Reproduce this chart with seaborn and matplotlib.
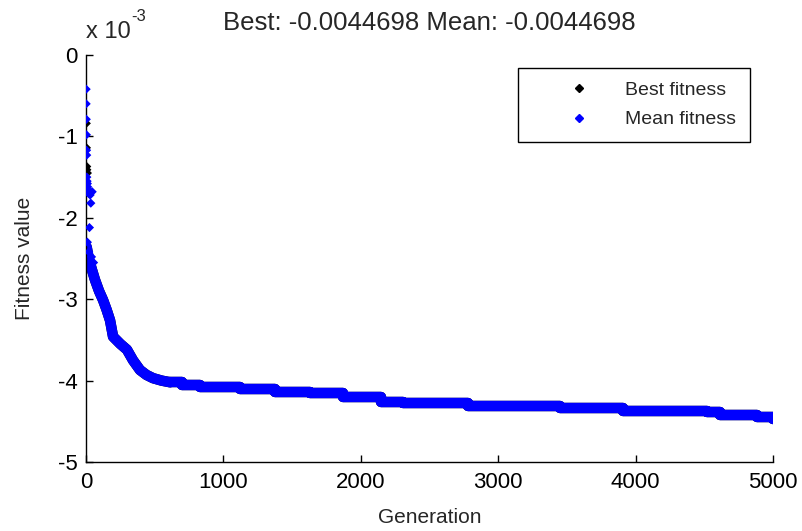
import matplotlib
matplotlib.use('Agg')
import matplotlib.pyplot as plt
import seaborn as sns
import pandas as pd
from matplotlib.lines import Line2D

# values, y in units of 1e-3
early_best_gen = [2, 3, 5, 6, 10]
early_best_val = [-0.84, -1.14, -1.37, -1.41, -1.45]

early_mean_gen = [1, 1, 2, 3, 4, 5, 6, 8, 10, 12, 15, 20, 30, 45, 35, 25, 10, 20, 40, 55]
early_mean_val = [-0.42, -0.60, -0.79, -0.98, -1.17, -1.23, -1.50, -1.55, -1.58, -1.62,
                  -1.66, -1.70, -1.72, -1.68, -1.82, -2.12, -2.30, -2.42, -2.48, -2.55]

band_gen = [5, 20, 40, 65, 95, 124, 150, 175, 197, 250, 298, 342, 393, 440, 488, 550, 611,
            700, 829, 1121, 1376, 1630, 1870, 2150, 2310, 2780, 3450, 3909, 4520, 4614, 4884, 5000]
band_val = [-2.36, -2.50, -2.62, -2.76, -2.90, -3.01, -3.13, -3.26, -3.46, -3.55, -3.62, -3.75,
            -3.87, -3.93, -3.97, -4.00, -4.02, -4.05, -4.08, -4.10, -4.14, -4.15, -4.20, -4.26,
            -4.28, -4.31, -4.34, -4.37, -4.39, -4.42, -4.45, -4.47]

x_ticks = [0, 1000, 2000, 3000, 4000, 5000]
y_ticks = [0, -1, -2, -3, -4, -5]

sns.set_style('white')
plt.rcParams['font.family'] = ['Liberation Sans', 'DejaVu Sans']

band = pd.DataFrame({'gen': band_gen, 'val': band_val})
steep = band[band['gen'] <= 611]   # fast early descent, drawn as a slope
flat = band[band['gen'] >= 611]    # later plateaus, drawn as steps

fig = plt.figure(figsize=(8.02, 5.31), dpi=100)
ax = fig.add_axes([86 / 802, 1 - 462 / 531, (773 - 86) / 802, (462 - 55) / 531])

# best fitness (black) under mean fitness (blue)
for col in ['black', 'blue']:
    sns.lineplot(data=steep, x='gen', y='val', ax=ax, color=col, linewidth=7.5,
                 estimator=None, solid_capstyle='round')
    sns.lineplot(data=flat, x='gen', y='val', ax=ax, color=col, linewidth=7.5,
                 drawstyle='steps-post', estimator=None)
sns.scatterplot(x=early_best_gen, y=early_best_val, ax=ax, color='black', marker='D',
                s=22, edgecolor='none', zorder=3)
sns.scatterplot(x=early_mean_gen, y=early_mean_val, ax=ax, color='blue', marker='D',
                s=22, edgecolor='none', zorder=3)

ax.set_xlim(0, 5000)
ax.set_ylim(-5, 0)
ax.set_xticks(x_ticks)
ax.set_yticks(y_ticks)
ax.set_xticklabels([str(t) for t in x_ticks], fontsize=16)
ax.set_yticklabels([str(t) for t in y_ticks], fontsize=16)
ax.tick_params(direction='in', length=5, width=1, colors='black', left=True, bottom=True)
ax.tick_params(axis='x', pad=7)
ax.tick_params(axis='y', pad=6)
for s in ['top', 'right']:
    ax.spines[s].set_visible(False)
for s in ['left', 'bottom']:
    ax.spines[s].set_color('black')
    ax.spines[s].set_linewidth(1)

ax.set_xlabel('Generation', fontsize=15, labelpad=11)
ax.set_ylabel('Fitness value', fontsize=15, labelpad=17)
ax.set_title('Best: -0.0044698 Mean: -0.0044698', fontsize=18.5, pad=18)
ax.text(0, 1.03, 'x 10', transform=ax.transAxes, fontsize=17, ha='left', va='bottom')
ax.text(0.066, 1.075, '-3', transform=ax.transAxes, fontsize=12, ha='left', va='bottom')

handles = [Line2D([], [], color='black', marker='D', linestyle='none', markersize=4),
           Line2D([], [], color='blue', marker='D', linestyle='none', markersize=4)]
leg = ax.legend(handles, ['Best fitness', 'Mean fitness'], loc='upper right',
                bbox_to_anchor=(750 / 802, 1 - 68 / 531), bbox_transform=fig.transFigure,
                borderaxespad=0, fontsize=14, frameon=True, fancybox=False,
                borderpad=0.7, handlelength=4.8, handletextpad=0, labelspacing=0.6)
leg.get_frame().set_edgecolor('black')
leg.get_frame().set_linewidth(1)
leg.get_frame().set_alpha(1)

fig.savefig('out.png', dpi=100)
